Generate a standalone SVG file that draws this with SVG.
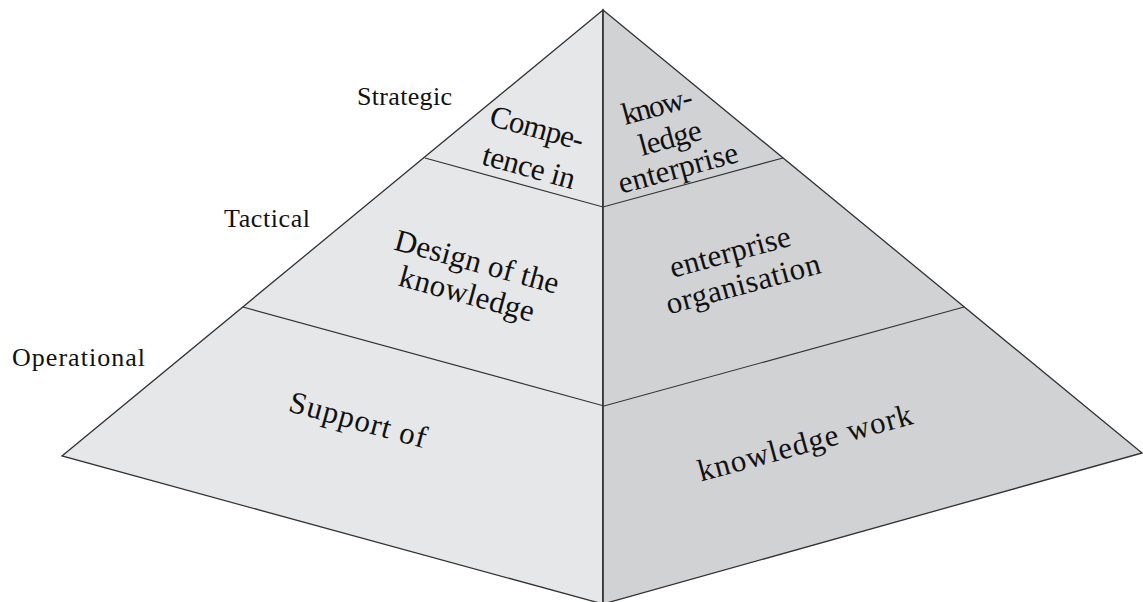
<svg xmlns="http://www.w3.org/2000/svg" width="1143" height="602" viewBox="0 0 1143 602">
<style>
.face{stroke:#333;stroke-width:1.3;stroke-linejoin:miter}
.l{fill:#e6e7e8}
.r{fill:#d1d2d4}
.div{fill:none;stroke:#333;stroke-width:1.2}
.lab{font-family:"Liberation Serif",serif;font-size:26px;fill:#111}
.t{font-family:"Liberation Serif",serif;font-size:31px;fill:#111;text-anchor:middle}
</style>
<rect width="1143" height="602" fill="#fff"/>
<g id="pyramid">
<polygon class="face l" points="603,10 62,456 603,604"/>
<polygon class="face r" points="603,10 1142,453 603,604"/>
</g>
<g id="connectors">
<polyline class="div" points="425,158 603,207 783,158"/>
<polyline class="div" points="243,307 604,406 964,307"/>
<line class="div" x1="603" y1="10" x2="603" y2="604" stroke-width="1.4"/>
</g>
<g id="levels">
<text class="lab" x="357" y="105" textLength="95">Strategic</text>
<text class="lab" x="224" y="227" textLength="86">Tactical</text>
<text class="lab" x="12" y="366" textLength="133">Operational</text>
</g>
<g id="strategic-left">
<g transform="translate(537,128) rotate(15.4)"><text class="t" y="10" textLength="96">Compe-</text></g>
<g transform="translate(529,167) rotate(15.4)"><text class="t" y="10" textLength="95">tence in</text></g>
</g>
<g id="strategic-right">
<g transform="translate(657,106) rotate(-15.2)"><text class="t" y="10" textLength="72">know-</text></g>
<g transform="translate(670,138) rotate(-15.2)"><text class="t" y="10" textLength="64">ledge</text></g>
<g transform="translate(678,168) rotate(-15.2)"><text class="t" y="10" textLength="123">enterprise</text></g>
</g>
<g id="tactical-left">
<g transform="translate(477,262) rotate(15.3)"><text class="t" y="10" textLength="169">Design of the</text></g>
<g transform="translate(467,294) rotate(15.3)"><text class="t" y="10" textLength="139">knowledge</text></g>
</g>
<g id="tactical-right">
<g transform="translate(730,252) rotate(-15.2)"><text class="t" y="10" textLength="124">enterprise</text></g>
<g transform="translate(743,284) rotate(-15.2)"><text class="t" y="10" textLength="159">organisation</text></g>
</g>
<g id="operational-left">
<g transform="translate(358,420) rotate(15.3)"><text class="t" y="10" textLength="141">Support of</text></g>
</g>
<g id="operational-right">
<g transform="translate(805,443) rotate(-15.2)"><text class="t" y="10" textLength="221">knowledge work</text></g>
</g>
</svg>
